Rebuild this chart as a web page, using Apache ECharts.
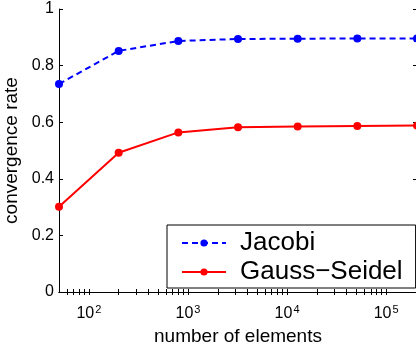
<!DOCTYPE html>
<html>
<head>
<meta charset="utf-8">
<script src="https://cdn.jsdelivr.net/npm/echarts@6/dist/echarts.min.js"></script>
<style>
  html, body { margin: 0; padding: 0; background: #fff; }
  #main { width: 416px; height: 344px; }
</style>
</head>
<body>
<div id="main"></div>
<script>
// values
var elements = [50, 200, 800, 3200, 12800, 51200, 204800];
var jacobi = [0.735, 0.852, 0.887, 0.894, 0.895, 0.896, 0.896];
var gaussSeidel = [0.301, 0.492, 0.564, 0.582, 0.585, 0.587, 0.588];
var xMajor = [100, 1000, 10000, 100000];
var xMinor = [60, 70, 80, 90, 200, 300, 400, 500, 600, 700, 800, 900,
              2000, 3000, 4000, 5000, 6000, 7000, 8000, 9000,
              20000, 30000, 40000, 50000, 60000, 70000, 80000, 90000, 200000];
var yTicks = [0, 0.2, 0.4, 0.6, 0.8, 1];

(function(){
    var mychart = echarts.init(document.getElementById('main'));
    var font = 'Liberation Sans, Arial, sans-serif';

    var pairs = function(ys) {
        return elements.map(function(x, i) { return [x, ys[i]]; });
    };

    var xBase = function(pos) {
        return {
            type: 'log',
            logBase: 10,
            min: 50,
            max: 204800,
            position: pos,
            axisLine: { show: true, lineStyle: { color: '#000', width: 1 } },
            axisTick: {
                show: true, inside: true, length: 3,
                customValues: xMajor.concat(xMinor),
                lineStyle: { color: '#000', width: 1 }
            },
            axisLabel: { show: false },
            splitLine: { show: false }
        };
    };
    var xBottom = xBase('bottom');
    xBottom.axisLabel = {
        show: true,
        customValues: xMajor,
        margin: 12,
        fontFamily: font,
        fontSize: 16,
        color: '#000',
        formatter: function(v) {
            return '10{sup|' + Math.round(Math.log(v) / Math.LN10) + '}';
        },
        rich: {
            sup: { fontSize: 11, fontFamily: font, color: '#000', padding: [0, 0, 9, 1] }
        }
    };
    xBottom.name = 'number of elements';
    xBottom.nameLocation = 'middle';
    xBottom.nameGap = 27;
    xBottom.nameTextStyle = { fontFamily: font, fontSize: 19, color: '#000' };

    var yBase = function(pos) {
        return {
            type: 'value',
            min: 0,
            max: 1,
            interval: 0.2,
            position: pos,
            axisLine: { show: true, lineStyle: { color: '#000', width: 1 } },
            axisTick: { show: true, inside: true, length: 4, lineStyle: { color: '#000', width: 1 } },
            axisLabel: { show: false },
            splitLine: { show: false }
        };
    };
    var yLeft = yBase('left');
    yLeft.axisLabel = {
        show: true,
        margin: 5,
        fontFamily: font,
        fontSize: 16,
        color: '#000',
        formatter: function(v) {
            return yTicks.indexOf(v) >= 0 ? String(v) : '';
        }
    };
    yLeft.name = 'convergence rate';
    yLeft.nameLocation = 'middle';
    yLeft.nameGap = 35;
    yLeft.nameTextStyle = { fontFamily: font, fontSize: 19, color: '#000' };

    var option = {
        backgroundColor: '#fff',
        animation: false,
        grid: { left: 59, right: -1, top: 9, bottom: 52, containLabel: false, outerBoundsMode: 'none' },
        legend: {
            orient: 'vertical',
            left: 167,
            top: 225,
            backgroundColor: '#fff',
            borderColor: '#000',
            borderWidth: 1,
            padding: [5, 13, 3, 14],
            itemWidth: 44,
            itemHeight: 9,
            itemGap: 3,
            textStyle: {
                fontFamily: font,
                fontSize: 26,
                lineHeight: 26,
                color: '#000',
                padding: [0, 0, 0, 9]
            },
            data: ['Jacobi', 'Gauss\u2212Seidel']
        },
        xAxis: [xBottom, xBase('top')],
        yAxis: [yLeft, yBase('right')],
        series: [
            {
                name: 'Jacobi',
                type: 'line',
                data: pairs(jacobi),
                symbol: 'circle',
                symbolSize: 8,
                color: '#0000ff',
                lineStyle: { color: '#0000ff', width: 2, type: [6, 4] },
                itemStyle: { color: '#0000ff' }
            },
            {
                name: 'Gauss\u2212Seidel',
                type: 'line',
                data: pairs(gaussSeidel),
                symbol: 'circle',
                symbolSize: 8,
                color: '#ff0000',
                lineStyle: { color: '#ff0000', width: 2 },
                itemStyle: { color: '#ff0000' }
            }
        ]
    };
    mychart.setOption(option);
})();
</script>
</body>
</html>
